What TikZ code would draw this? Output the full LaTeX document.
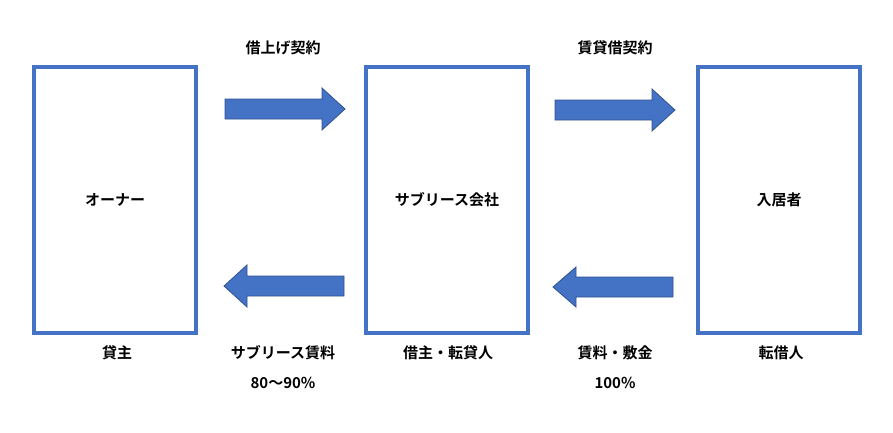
\documentclass[tikz,border=0pt]{standalone}
\usepackage{fontspec}
\setmainfont{Noto Sans CJK JP}[BoldFont={Noto Sans CJK JP Bold}]
\definecolor{bblue}{HTML}{4472C4}
\definecolor{dblue}{HTML}{2F528F}
\begin{document}
\begin{tikzpicture}[x=1pt,y=-1pt,
  box/.style={draw=bblue,line width=3.5pt,minimum width=162pt,minimum height=266pt,font=\bfseries\fontsize{15}{17}\selectfont},
  arr/.style={fill=bblue,draw=dblue,line width=0.8pt},
  lbl/.style={font=\bfseries\fontsize{15}{17}\selectfont}]
\useasboundingbox (0,0) rectangle (893,432);
\node[box] (owner) at (115,200) {オーナー};
\node[box] (sub) at (447,200) {サブリース会社};
\node[box] (res) at (779,200) {入居者};
\begin{scope}[shift={(285,109)}]
\draw[arr] (-60,-10) -- (37,-10) -- (37,-21) -- (60,0) -- (37,21) -- (37,10) -- (-60,10) -- cycle;
\end{scope}
\begin{scope}[shift={(615,110)}]
\draw[arr] (-60,-10) -- (37,-10) -- (37,-21) -- (60,0) -- (37,21) -- (37,10) -- (-60,10) -- cycle;
\end{scope}
\begin{scope}[shift={(284,286)},xscale=-1]
\draw[arr] (-60,-10) -- (37,-10) -- (37,-21) -- (60,0) -- (37,21) -- (37,10) -- (-60,10) -- cycle;
\end{scope}
\begin{scope}[shift={(613,287)},xscale=-1]
\draw[arr] (-60,-10) -- (37,-10) -- (37,-20) -- (60,0) -- (37,20) -- (37,10) -- (-60,10) -- cycle;
\end{scope}
\node[lbl] (t1) at (283,48) {借上げ契約};
\node[lbl] (t2) at (615,48) {賃貸借契約};
\node[lbl] (l1) at (117,353) {貸主};
\node[lbl] (l2) at (283,353) {サブリース賃料};
\node[lbl] (l3) at (283,383) {80〜90\%};
\node[lbl] (l4) at (448,353) {借主・転貸人};
\node[lbl] (l5) at (615,353) {賃料・敷金};
\node[lbl] (l6) at (615,383) {100\%};
\node[lbl] (l7) at (781,353) {転借人};
\end{tikzpicture}
\end{document}
